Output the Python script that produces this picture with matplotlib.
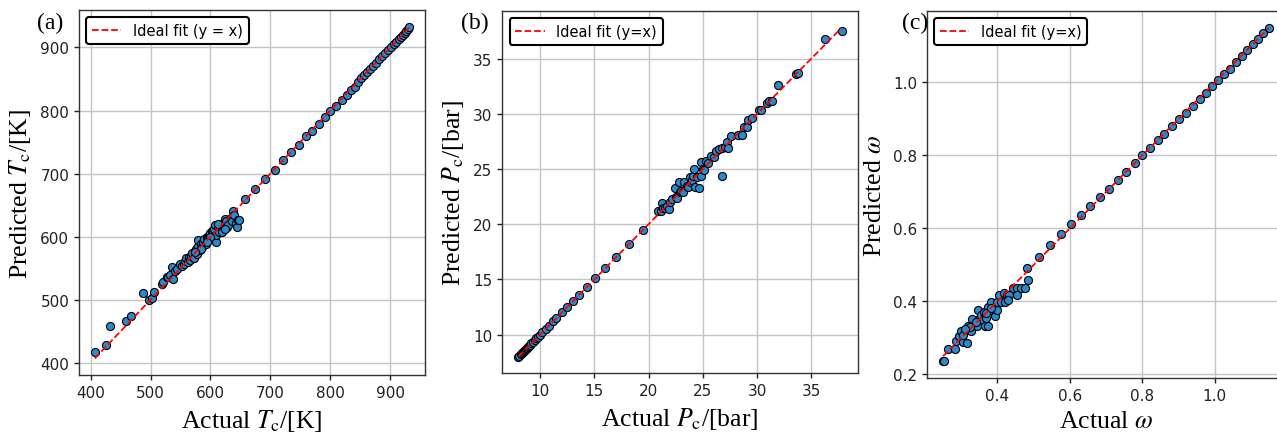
import matplotlib
matplotlib.use("Agg")
import matplotlib.pyplot as plt

# ---------------- data ----------------
tc_actual = [407, 425, 433, 459, 468, 488, 497, 503, 506, 519, 521, 528, 530, 533, 536, 538, 541, 545,
             549, 552, 556, 558, 560, 562, 564, 566, 568, 570, 572, 574, 576, 577, 579, 580, 582, 584,
             586, 588, 590, 592, 594, 596, 598, 600, 602, 604, 606, 608, 609, 610, 612, 614, 616, 618,
             620, 622, 624, 626, 628, 630, 634, 636, 638, 640, 642, 644, 646, 648, 612, 620, 625, 600,
             595, 585, 575, 657, 675, 691, 707, 721, 735, 748, 759, 770, 781, 792, 800, 810, 820, 828,
             835, 841, 846, 852, 857, 862, 867, 872, 877, 882, 887, 892, 897, 902, 906, 910, 914, 918,
             921, 924, 927, 929, 932]
tc_pred = [417, 429, 458, 466, 474, 511, 500, 503, 512, 525, 528, 536, 536, 540, 552, 533, 545, 548,
           557, 553, 556, 562, 566, 560, 568, 563, 570, 574, 566, 578, 581, 572, 585, 594, 579, 588,
           583, 592, 596, 589, 600, 598, 603, 606, 609, 607, 612, 618, 592, 603, 615, 608, 619, 613,
           612, 623, 628, 625, 615, 618, 630, 625, 641, 634, 622, 616, 627, 626, 620, 608, 612, 600,
           592, 580, 575, 659, 675, 691, 706, 721, 734, 745, 759, 768, 778, 789, 800, 807, 816, 824,
           832, 838, 845, 851, 856, 861, 866, 871, 876, 881, 886, 891, 896, 901, 905, 909, 913, 917,
           920, 923, 926, 929, 933]

pc_actual = [8.0, 8.1, 8.2, 8.3, 8.4, 8.5, 8.6, 8.7, 8.8, 8.9, 9.0, 9.1, 9.2, 9.35, 9.5, 9.65, 9.8,
             10.0, 10.2, 10.5, 10.8, 11.2, 11.5, 12.0, 12.5, 13.0, 13.6, 14.3, 15.1, 16.0, 17.0, 18.2,
             19.5, 20.9, 21.1, 21.2, 21.3, 21.5, 21.7, 21.9, 22.0, 22.2, 22.4, 22.5, 22.6, 22.8, 22.85,
             23.0, 23.2, 23.3, 23.5, 23.6, 23.8, 23.9, 24.0, 24.1, 24.2, 24.3, 24.5, 24.6, 24.8, 24.8,
             25.0, 25.1, 25.3, 25.5, 25.75, 26.0, 26.2, 26.5, 26.77, 26.8, 27.0, 27.2, 27.35, 27.6, 28.2,
             28.6, 28.8, 29.1, 29.2, 29.5, 30.2, 30.4, 30.9, 31.1, 31.4, 31.9, 33.6, 33.8, 36.3, 37.8]
pc_pred = [8.0, 8.1, 8.2, 8.3, 8.4, 8.5, 8.6, 8.7, 8.8, 8.9, 9.0, 9.1, 9.2, 9.35, 9.5, 9.65, 9.8,
           10.0, 10.2, 10.5, 10.8, 11.2, 11.5, 12.0, 12.5, 13.0, 13.6, 14.3, 15.1, 16.0, 17.0, 18.2,
           19.5, 21.2, 21.2, 21.9, 21.5, 21.5, 21.6, 21.4, 22.0, 22.3, 23.3, 22.5, 22.4, 23.8, 22.9,
           23.0, 22.9, 23.8, 23.5, 23.4, 24.3, 23.8, 24.0, 24.4, 25.0, 23.4, 24.3, 23.3, 24.4, 25.6,
           25.0, 24.9, 25.7, 25.5, 26.2, 26.1, 26.6, 26.8, 24.35, 26.9, 27.0, 27.4, 26.9, 28.0, 28.1,
           28.1, 28.76, 28.8, 29.45, 29.6, 30.3, 30.3, 31.0, 31.2, 31.2, 32.6, 33.6, 33.7, 36.75, 37.45]

w_actual = [0.250, 0.252, 0.264, 0.284, 0.285, 0.294, 0.299, 0.304, 0.317, 0.313, 0.304, 0.319, 0.327,
            0.331, 0.336, 0.343, 0.347, 0.350, 0.354, 0.359, 0.363, 0.365, 0.374, 0.368, 0.374, 0.382,
            0.386, 0.393, 0.398, 0.398, 0.405, 0.409, 0.417, 0.420, 0.426, 0.432, 0.428, 0.444, 0.455,
            0.466, 0.477, 0.453, 0.368, 0.382, 0.340, 0.325, 0.310, 0.483, 0.485, 0.514, 0.544, 0.575,
            0.603, 0.630, 0.657, 0.682, 0.708, 0.732, 0.756, 0.779, 0.800, 0.822, 0.842, 0.861, 0.881,
            0.902, 0.921, 0.939, 0.959, 0.977, 0.992, 1.009, 1.026, 1.041, 1.058, 1.074, 1.089, 1.106,
            1.120, 1.134, 1.149]
w_pred = [0.236, 0.238, 0.271, 0.271, 0.291, 0.305, 0.318, 0.288, 0.286, 0.322, 0.309, 0.334, 0.318,
          0.352, 0.336, 0.333, 0.377, 0.352, 0.363, 0.350, 0.372, 0.334, 0.334, 0.354, 0.386, 0.399,
          0.377, 0.359, 0.377, 0.399, 0.417, 0.399, 0.423, 0.399, 0.417, 0.417, 0.404, 0.437, 0.437,
          0.437, 0.437, 0.417, 0.368, 0.383, 0.345, 0.330, 0.325, 0.492, 0.458, 0.523, 0.555, 0.584,
          0.611, 0.636, 0.662, 0.685, 0.709, 0.734, 0.755, 0.779, 0.800, 0.821, 0.841, 0.860, 0.881,
          0.899, 0.917, 0.936, 0.955, 0.972, 0.989, 1.007, 1.023, 1.038, 1.056, 1.073, 1.088, 1.105,
          1.118, 1.135, 1.150]

panels = [
    dict(x=tc_actual, y=tc_pred, tag="(a)", legend="Ideal fit (y = x)",
         xlabel=r"Actual $T_\mathrm{c}$/[K]", ylabel=r"Predicted $T_\mathrm{c}$/[K]",
         xticks=[400, 500, 600, 700, 800, 900], yticks=[400, 500, 600, 700, 800, 900]),
    dict(x=pc_actual, y=pc_pred, tag="(b)", legend="Ideal fit (y=x)",
         xlabel=r"Actual $P_\mathrm{c}$/[bar]", ylabel=r"Predicted $P_\mathrm{c}$/[bar]",
         xticks=[10, 15, 20, 25, 30, 35], yticks=[10, 15, 20, 25, 30, 35]),
    dict(x=w_actual, y=w_pred, tag="(c)", legend="Ideal fit (y=x)",
         xlabel=r"Actual $\omega$", ylabel=r"Predicted $\omega$",
         xticks=[0.4, 0.6, 0.8, 1.0], yticks=[0.2, 0.4, 0.6, 0.8, 1.0]),
]

# ---------------- layout ----------------
plt.rcParams["font.family"] = ["DejaVu Sans"]
plt.rcParams["mathtext.fontset"] = "stix"
fig = plt.figure(figsize=(12.77, 4.35), dpi=100)
positions = [
    [0.0619, 0.1356, 0.2710, 0.8390],
    [0.3933, 0.1400, 0.2785, 0.8320],
    [0.7257, 0.1287, 0.2806, 0.8437],
]
tag_pos = [(0.039, 0.945), (0.372, 0.945), (0.717, 0.945)]

for p, pos, tp in zip(panels, positions, tag_pos):
    ax = fig.add_axes(pos)
    ax.scatter(p["x"], p["y"], s=34, color="#2b8acb", edgecolor="black",
               linewidth=0.8, zorder=2)
    lo, hi = min(p["x"]), max(p["x"])
    ax.plot([lo, hi], [lo, hi], "--", color="red", linewidth=1.3,
            label=p["legend"], zorder=3)
    ax.set_xticks(p["xticks"])
    ax.set_yticks(p["yticks"])
    ax.tick_params(labelsize=11, colors="#222222", width=1)
    ax.grid(True, color="#c4c4c4", linewidth=1.0, zorder=0)
    ax.set_axisbelow(True)
    for s in ax.spines.values():
        s.set_color("#333333")
        s.set_linewidth(1.0)
    ax.set_xlabel(p["xlabel"], fontsize=18.5, family="Liberation Serif", labelpad=5)
    ax.set_ylabel(p["ylabel"], fontsize=18.5, family="Liberation Serif", labelpad=5)
    leg = ax.legend(loc="upper left", fontsize=10.5, frameon=True, fancybox=True,
                    framealpha=1.0, borderaxespad=0.5)
    leg.get_frame().set_edgecolor("black")
    leg.get_frame().set_linewidth(1.5)
    fig.text(tp[0], tp[1], p["tag"], fontsize=17, family="Liberation Serif",
             ha="center", va="center")

fig.savefig("out.png", dpi=100)
